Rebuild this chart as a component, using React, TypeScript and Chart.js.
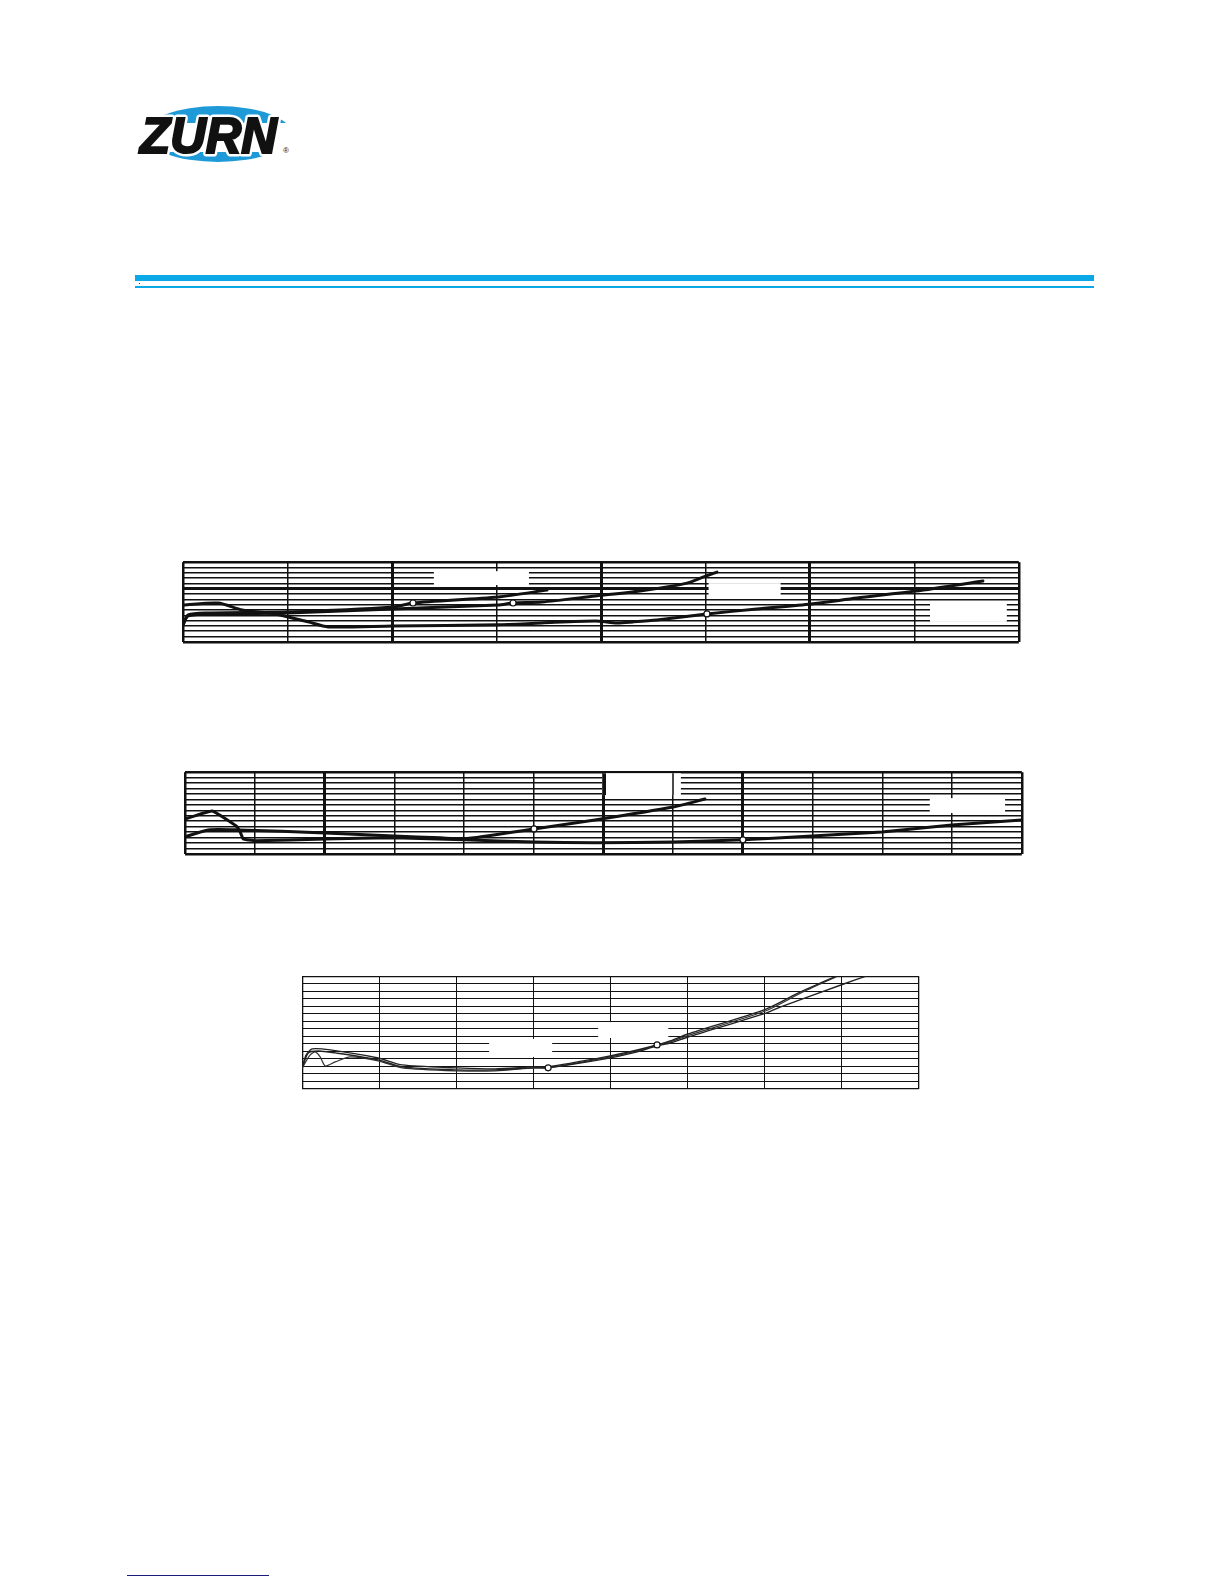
import React, { useEffect, useRef } from "react";
import { Chart, registerables } from "chart.js";
Chart.register(...registerables);

// ---------- Chart 1 (top) ----------
const c1AX = [0, 0.335, 0.565, 0.88, 1.196, 1.388, 2.01, 3.014, 3.435, 3.943, 4.153, 4.306, 4.536, 5.014, 5.493, 6.01, 6.45, 7.014, 7.656];
const c1AY = [6.94, 7.31, 6.0, 5.25, 3.75, 2.81, 3.0, 3.19, 3.56, 3.94, 3.56, 3.75, 4.125, 5.25, 6.19, 7.125, 8.25, 9.56, 11.44];
const c1CX = [0, 0.048, 0.239, 1.005, 2.01, 2.2, 3.014, 3.483];
const c1CY = [3.19, 5.06, 5.44, 5.625, 6.56, 7.31, 8.44, 9.75];
const c1DX = [0, 0.048, 0.239, 1.005, 2.01, 3.014, 3.158, 3.435, 3.943, 4.373, 4.823, 4.976, 5.11];
const c1DY = [3.375, 4.875, 5.25, 5.44, 6.19, 6.94, 7.31, 7.5, 8.625, 9.56, 11.06, 12.19, 13.125];
const c1MarkX = [2.2, 3.158, 5.014];
const c1MarkY = [7.31, 7.31, 5.25];
const c1BoxX0 = [2.4, 5.03, 7.15];
const c1BoxX1 = [3.31, 5.72, 7.885];
const c1BoxY0 = [10.69, 8.25, 3.75];
const c1BoxY1 = [13.31, 11.06, 7.31];
const c1BoxKeepV = [false, false, false];

// ---------- Chart 2 (middle) ----------
const c2EX = [0, 0.387, 0.731, 0.789, 0.832, 1.004, 2.007, 2.996, 3.999, 5.003, 5.878, 6.996, 8.0, 8.989, 9.993, 10.996, 12.0];
const c2EY = [6.4, 7.865, 5.12, 4.02, 2.74, 2.38, 2.74, 2.93, 2.56, 2.19, 2.01, 2.19, 2.56, 3.29, 4.02, 5.3, 6.22];
const c2FX = [0, 0.33, 0.76, 2.007, 2.996, 3.656, 3.999, 5.003, 5.878, 6.996, 7.455];
const c2FY = [3.11, 4.39, 4.39, 3.84, 3.29, 2.93, 2.74, 4.57, 6.22, 8.6, 10.06];
const c2MarkX = [8.0, 5.003];
const c2MarkY = [2.56, 4.57];
const c2BoxX0 = [5.99, 10.68];
const c2BoxX1 = [7.11, 11.76];
const c2BoxY0 = [10.79, 7.5];
const c2BoxY1 = [14.81, 10.24];
const c2BoxKeepV = [true, false];

// ---------- Chart 3 (bottom) ----------
const c3G1X = [0, 0.052, 0.13, 0.363, 0.986, 1.297, 2.01, 2.503, 3.009, 3.191, 3.93, 4.293, 4.604, 4.773, 5.006, 6.018, 6.459, 6.926];
const c3G1Y = [2.79, 4.51, 5.31, 5.18, 4.11, 3.18, 2.79, 2.65, 2.92, 2.92, 4.25, 5.04, 5.84, 6.37, 7.3, 10.62, 12.87, 15.0];
const c3G2X = [0, 0.078, 0.208, 0.428, 0.986, 1.297, 2.01, 2.503, 3.009, 3.191, 3.93, 4.293, 4.604, 4.773, 5.006, 6.018, 6.2, 7.017, 7.315];
const c3G2Y = [2.79, 4.78, 5.04, 4.78, 3.85, 2.92, 2.52, 2.52, 2.79, 2.79, 3.98, 4.78, 5.71, 6.1, 6.9, 10.09, 10.88, 13.93, 15.0];
const c3G3X = [0, 0.104, 0.169, 0.233, 0.298, 0.428, 0.623, 0.986, 1.297, 2.01, 2.503, 3.009, 3.191, 3.93, 4.293, 4.604, 4.773, 5.006, 6.018, 6.459, 6.926];
const c3G3Y = [2.79, 4.51, 4.91, 4.25, 3.05, 3.58, 4.25, 3.72, 2.79, 2.39, 2.39, 2.79, 2.79, 4.11, 4.91, 5.84, 6.24, 7.1, 10.4, 12.7, 14.9];
const c3MarkX = [3.191, 4.604];
const c3MarkY = [2.79, 5.84];
const c3BoxX0 = [2.425, 3.84];
const c3BoxX1 = [3.243, 4.75];
const c3BoxY0 = [4.25, 6.77];
const c3BoxY1 = [6.64, 8.89];
const c3BoxKeepV = [false, false];

type Series = { xs: number[]; ys: number[]; width: number; color: string; tension: number };
type Spec = {
  left: number; top: number; width: number; height: number;
  xMax: number; yMax: number;
  thickX: number[]; thickY: number[];
  thinW: number; thickW: number; edgeW: number;
  series: Series[];
  markX: number[]; markY: number[]; markR: number;
  bx0: number[]; bx1: number[]; by0: number[]; by1: number[]; keepV: boolean[];
};

const PAD = 5;

function GridChart({ spec }: { spec: Spec }) {
  const ref = useRef<HTMLCanvasElement | null>(null);
  useEffect(() => {
    if (!ref.current) return;
    const widthFor = (thick: number[], max: number, v: number) => {
      if (v === 0 || v === max) return spec.edgeW;
      return thick.includes(v) ? spec.thickW : spec.thinW;
    };
    const boxPlugin = {
      id: "whiteBoxes",
      beforeDatasetsDraw(chart: any) {
        const { ctx, scales } = chart;
        ctx.save();
        for (let i = 0; i < spec.bx0.length; i++) {
          const x0 = scales.x.getPixelForValue(spec.bx0[i]);
          const x1 = scales.x.getPixelForValue(spec.bx1[i]);
          const y0 = scales.y.getPixelForValue(spec.by1[i]);
          const y1 = scales.y.getPixelForValue(spec.by0[i]);
          ctx.fillStyle = "#ffffff";
          ctx.fillRect(x0, y0, x1 - x0, y1 - y0);
          if (spec.keepV[i]) {
            ctx.strokeStyle = "#111111";
            for (const t of scales.x.ticks) {
              const px = scales.x.getPixelForValue(t.value);
              if (px >= x0 - 2 && px <= x1 + 2) {
                const w = widthFor(spec.thickX, spec.xMax, t.value);
                ctx.lineWidth = w;
                const ax = Math.round(px) + (w % 2 === 1 ? 0.5 : 0);
                ctx.beginPath();
                ctx.moveTo(ax, y0);
                ctx.lineTo(ax, y1);
                ctx.stroke();
              }
            }
          }
        }
        ctx.restore();
      },
    };
    const lw = (thick: number[], max: number) => (c: any) => widthFor(thick, max, c.tick ? c.tick.value : 0);
    const datasets: any[] = spec.series.map((s) => ({
      data: s.xs.map((x, i) => ({ x, y: s.ys[i] })),
      borderColor: s.color,
      borderWidth: s.width,
      pointRadius: 0,
      tension: s.tension,
      fill: false,
      borderCapStyle: "round",
      borderJoinStyle: "round",
      order: 1,
    }));
    datasets.push({
      data: spec.markX.map((x, i) => ({ x, y: spec.markY[i] })),
      showLine: false,
      pointRadius: spec.markR,
      pointBackgroundColor: "#ffffff",
      pointBorderColor: "#111111",
      pointBorderWidth: 1.2,
      order: -1,
    });
    const chart = new Chart(ref.current, {
      type: "line",
      data: { datasets },
      options: {
        animation: false,
        responsive: false,
        devicePixelRatio: 1,
        layout: { padding: PAD },
        plugins: { legend: { display: false }, tooltip: { enabled: false } },
        scales: {
          x: {
            type: "linear",
            min: 0,
            max: spec.xMax,
            ticks: { display: false, stepSize: 1 },
            grid: { drawTicks: false, color: "#111111", lineWidth: lw(spec.thickX, spec.xMax) },
            border: { display: false },
          },
          y: {
            type: "linear",
            min: 0,
            max: spec.yMax,
            ticks: { display: false, stepSize: 1 },
            grid: { drawTicks: false, color: "#111111", lineWidth: lw(spec.thickY, spec.yMax) },
            border: { display: false },
          },
        },
      } as any,
      plugins: [boxPlugin],
    });
    return () => chart.destroy();
  }, [spec]);
  return (
    <canvas
      ref={ref}
      width={spec.width + PAD * 2}
      height={spec.height + PAD * 2}
      style={{ position: "absolute", left: spec.left - PAD, top: spec.top - PAD, width: spec.width + PAD * 2, height: spec.height + PAD * 2 }}
    />
  );
}

const spec1: Spec = {
  left: 183, top: 562, width: 836, height: 80, xMax: 8, yMax: 15,
  thickX: [2, 4, 6], thickY: [10], thinW: 1.5, thickW: 3, edgeW: 2.5,
  series: [
    { xs: c1AX, ys: c1AY, width: 3, color: "#111", tension: 0.25 },
    { xs: c1CX, ys: c1CY, width: 3, color: "#111", tension: 0.25 },
    { xs: c1DX, ys: c1DY, width: 3, color: "#111", tension: 0.25 },
  ],
  markX: c1MarkX, markY: c1MarkY, markR: 3,
  bx0: c1BoxX0, bx1: c1BoxX1, by0: c1BoxY0, by1: c1BoxY1, keepV: c1BoxKeepV,
};
const spec2: Spec = {
  left: 185, top: 772, width: 837, height: 82, xMax: 12, yMax: 15,
  thickX: [2, 6, 8], thickY: [], thinW: 1.5, thickW: 3, edgeW: 2.5,
  series: [
    { xs: c2EX, ys: c2EY, width: 3, color: "#111", tension: 0.1 },
    { xs: c2FX, ys: c2FY, width: 3, color: "#111", tension: 0.2 },
  ],
  markX: c2MarkX, markY: c2MarkY, markR: 3,
  bx0: c2BoxX0, bx1: c2BoxX1, by0: c2BoxY0, by1: c2BoxY1, keepV: c2BoxKeepV,
};
const spec3: Spec = {
  left: 302, top: 976, width: 617, height: 113, xMax: 8, yMax: 15,
  thickX: [], thickY: [], thinW: 1, thickW: 1, edgeW: 1.3,
  series: [
    { xs: c3G1X, ys: c3G1Y, width: 1.4, color: "#222", tension: 0.25 },
    { xs: c3G2X, ys: c3G2Y, width: 1.4, color: "#222", tension: 0.25 },
    { xs: c3G3X, ys: c3G3Y, width: 1.2, color: "#333", tension: 0.25 },
  ],
  markX: c3MarkX, markY: c3MarkY, markR: 3,
  bx0: c3BoxX0, bx1: c3BoxX1, by0: c3BoxY0, by1: c3BoxY1, keepV: c3BoxKeepV,
};

function Logo() {
  const font = "'Liberation Sans', Arial, sans-serif";
  return (
    <svg style={{ position: "absolute", left: 130, top: 95 }} width={175} height={80}>
      <ellipse cx={88} cy={39} rx={74} ry={28} fill="#1f9ad8" />
      <rect x={0} y={28} width={175} height={29} fill="#ffffff" />
      <text x={10} y={58} fontFamily={font} fontWeight="bold" fontStyle="italic" fontSize={50}
        textLength={137} lengthAdjust="spacingAndGlyphs" fill="#ffffff" stroke="#ffffff" strokeWidth={7}
        strokeLinejoin="round">
        ZURN
      </text>
      <text x={10} y={58} fontFamily={font} fontWeight="bold" fontStyle="italic" fontSize={50}
        textLength={137} lengthAdjust="spacingAndGlyphs" fill="#111111" stroke="#111111" strokeWidth={2.2}
        strokeLinejoin="miter">
        ZURN
      </text>
      <text x={153} y={58} fontFamily={font} fontSize={8} fill="#111">®</text>
    </svg>
  );
}

export default function App() {
  return (
    <div style={{ position: "absolute", left: 0, top: 0, width: 1224, height: 1584, background: "#ffffff", overflow: "hidden" }}>
      <Logo />
      <div style={{ position: "absolute", left: 135, top: 275, width: 959, height: 6, background: "#0aa8e6" }} />
      <div style={{ position: "absolute", left: 135, top: 286, width: 959, height: 2, background: "#0aa8e6" }} />
      <div style={{ position: "absolute", left: 139, top: 283, width: 1, height: 1, background: "#333" }} />
      <GridChart spec={spec1} />
      <GridChart spec={spec2} />
      <GridChart spec={spec3} />
      <div style={{ position: "absolute", left: 127, top: 1575, width: 142, height: 1, background: "#1c1c7a" }} />
    </div>
  );
}
